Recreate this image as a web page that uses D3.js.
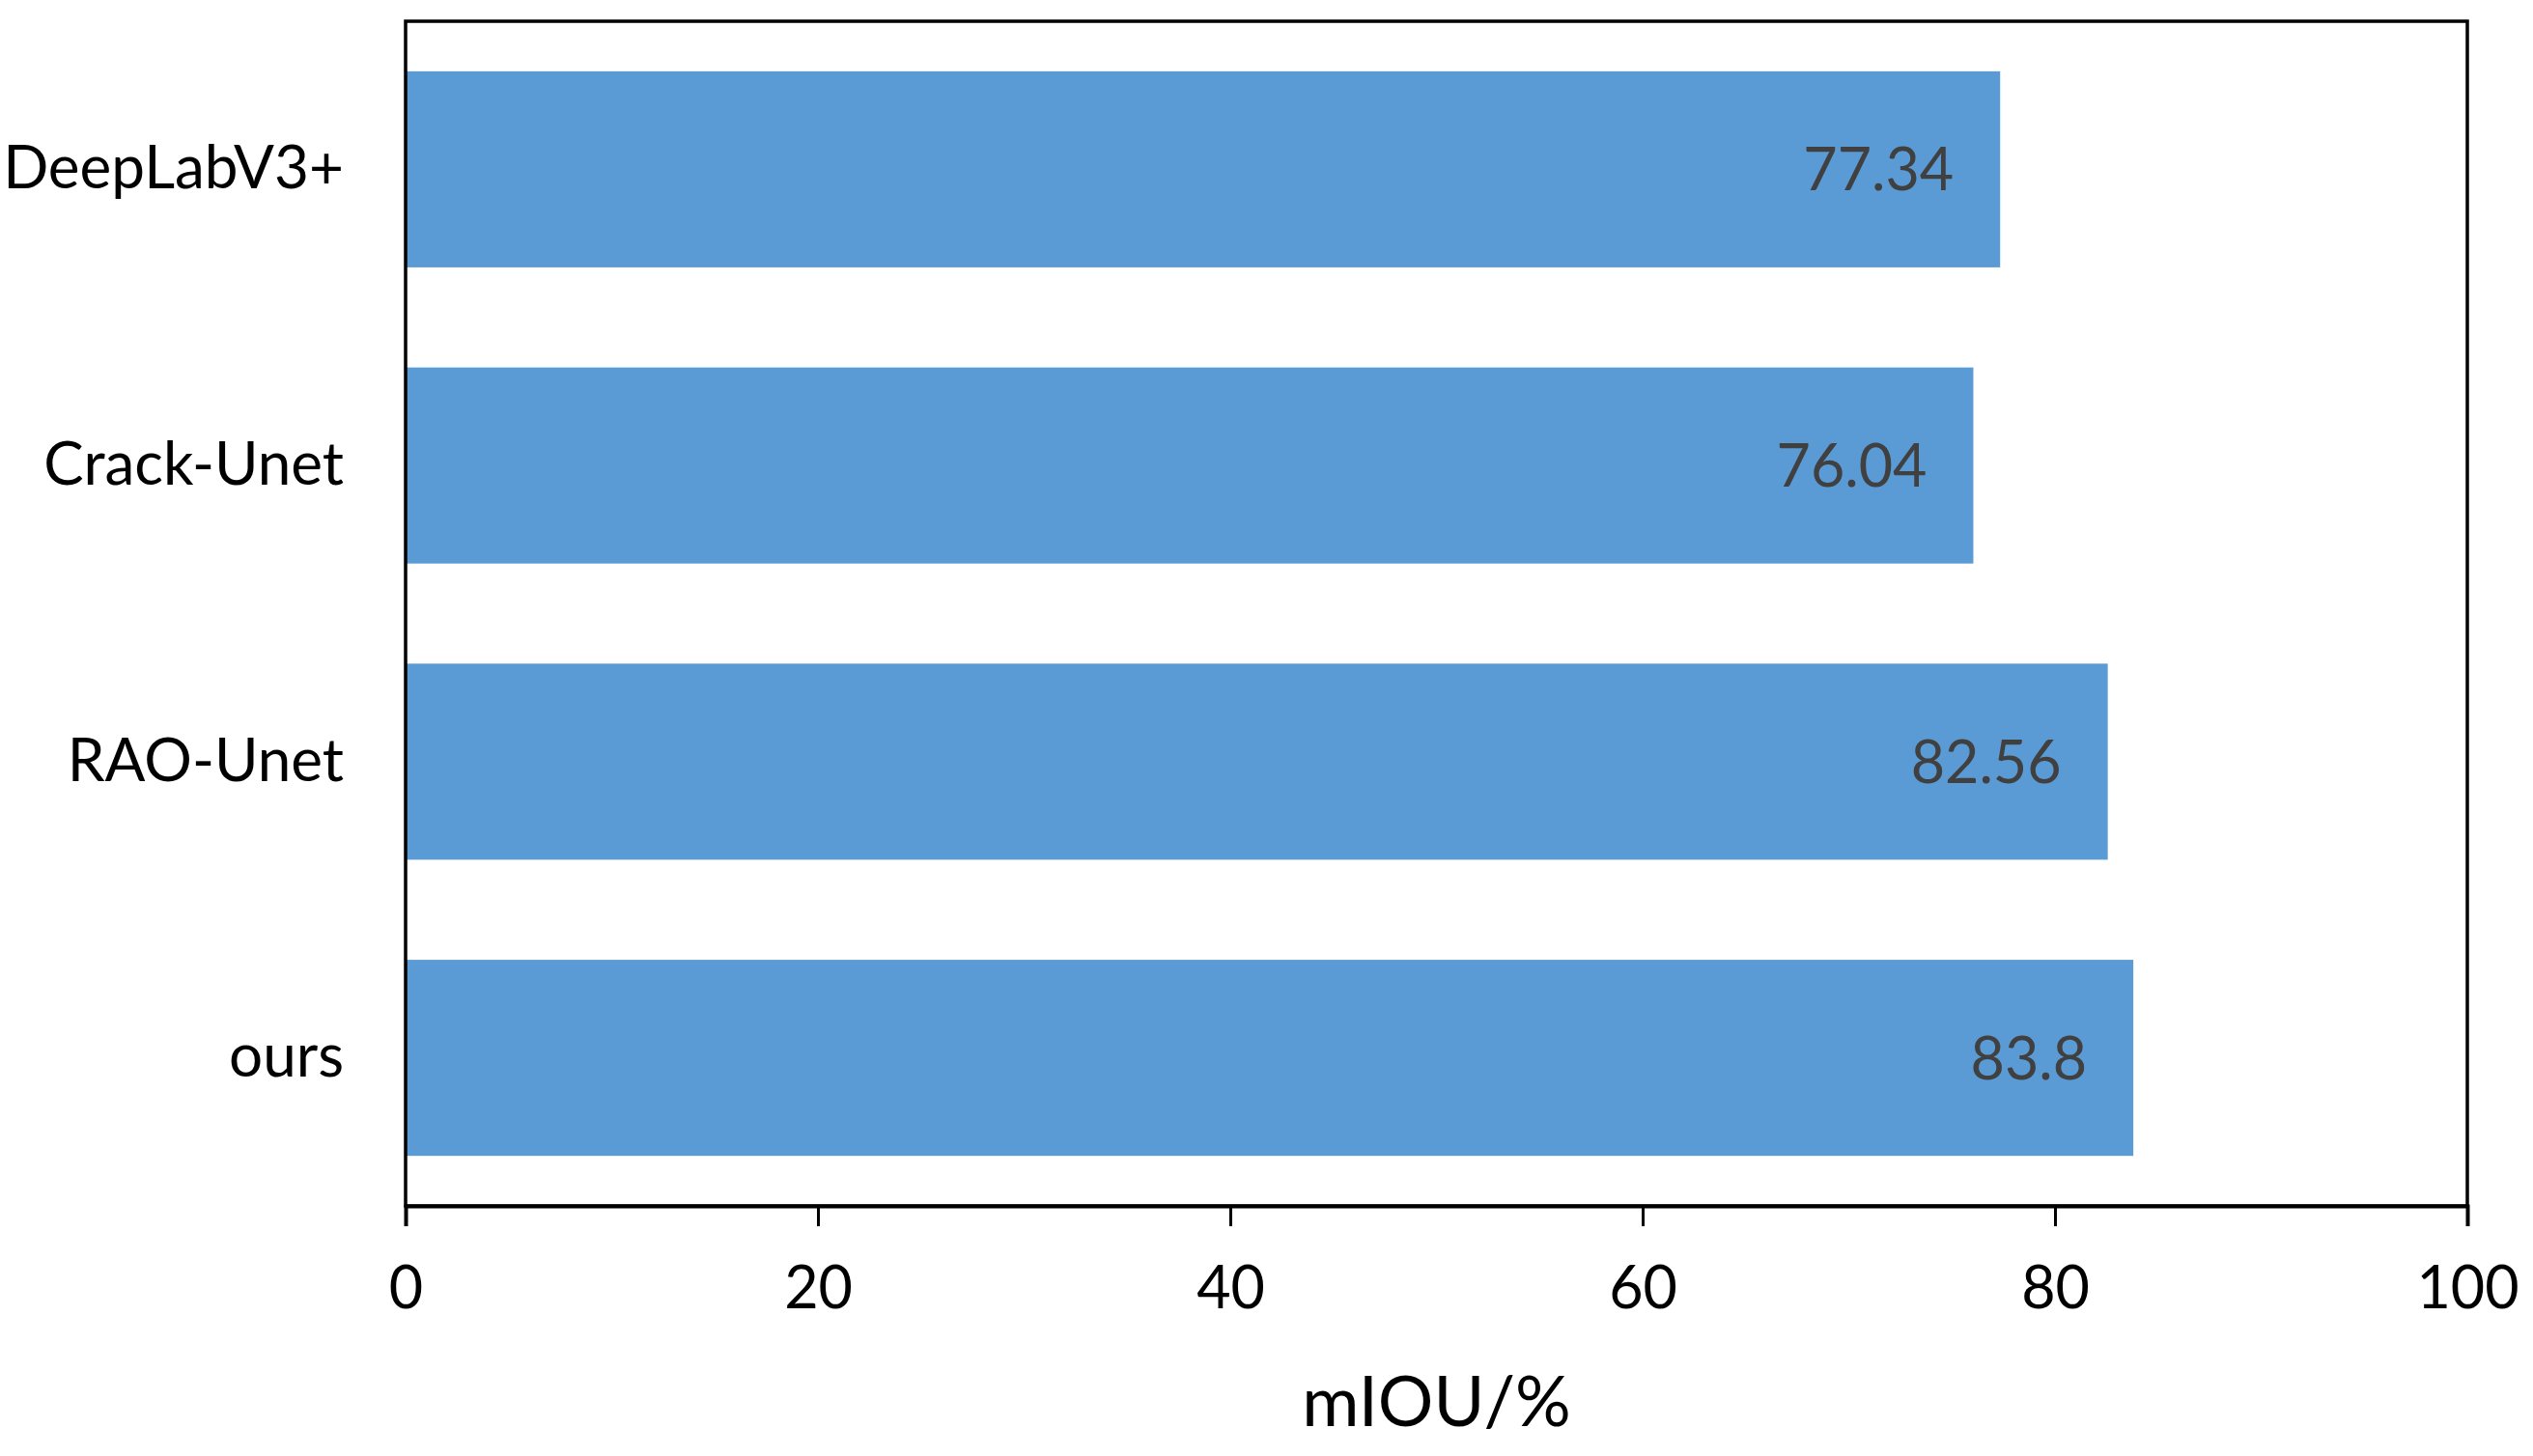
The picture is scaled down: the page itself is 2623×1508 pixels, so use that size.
<!DOCTYPE html>
<html><head><meta charset="utf-8">
<script src="https://cdn.jsdelivr.net/npm/d3@7"></script>
<style>body{margin:0;background:#fff}</style>
</head><body>
<svg id="chart" width="2623" height="1508"></svg>
<script>
const categories = ["DeepLabV3+", "Crack-Unet", "RAO-Unet", "ours"];
const values = [77.34, 76.04, 82.56, 83.8];
const valueLabels = ["77.34", "76.04", "82.56", "83.8"];
const xTicks = [0, 20, 40, 60, 80, 100];
const xTitle = "mIOU/%";

const svg = d3.select("#chart");
const m = {left: 420, right: 2555, top: 22, bottom: 1249};
const font = "Lato, 'Open Sans', sans-serif";

const x = d3.scaleLinear().domain([0, 100]).range([m.left, m.right]);
const y = d3.scaleBand().domain(categories).range([m.top, m.bottom])
  .paddingInner(0.338).paddingOuter(0.169);

svg.append("g").selectAll("rect").data(values).join("rect")
  .attr("x", x(0)).attr("y", (d, i) => y(categories[i]))
  .attr("width", d => x(d) - x(0)).attr("height", y.bandwidth())
  .attr("fill", "#5B9BD5");

svg.append("g").selectAll("text").data(values).join("text")
  .attr("x", d => x(d) - 48)
  .attr("y", (d, i) => y(categories[i]) + y.bandwidth() / 2)
  .attr("dy", "0.36em")
  .attr("text-anchor", "end")
  .attr("font-family", font).attr("font-size", 61)
  .attr("fill", "#404040")
  .text((d, i) => valueLabels[i]);

// frame
svg.append("rect").attr("x", m.left).attr("y", m.top)
  .attr("width", m.right - m.left).attr("height", m.bottom - m.top)
  .attr("fill", "none").attr("stroke", "#000").attr("stroke-width", 3.5);

// x axis
const xAxis = svg.append("g").attr("transform", `translate(0,${m.bottom})`)
  .call(d3.axisBottom(x).tickValues(xTicks).tickSize(21).tickPadding(42));
xAxis.select(".domain").attr("stroke", "#000").attr("stroke-width", 4);
xAxis.selectAll(".tick line").attr("stroke", "#000").attr("stroke-width", 3);
xAxis.selectAll(".tick text").attr("font-family", font).attr("font-size", 61)
  .attr("fill", "#000");

// y axis labels
const yAxis = svg.append("g").attr("transform", `translate(${m.left},0)`)
  .call(d3.axisLeft(y).tickSize(0).tickPadding(64));
yAxis.select(".domain").remove();
yAxis.selectAll(".tick text").attr("font-family", font).attr("font-size", 62)
  .attr("fill", "#000");

svg.append("text").attr("x", (m.left + m.right) / 2).attr("y", 1477)
  .attr("text-anchor", "middle").attr("font-family", font).attr("font-size", 72)
  .attr("fill", "#000").text(xTitle);
</script>
</body></html>
